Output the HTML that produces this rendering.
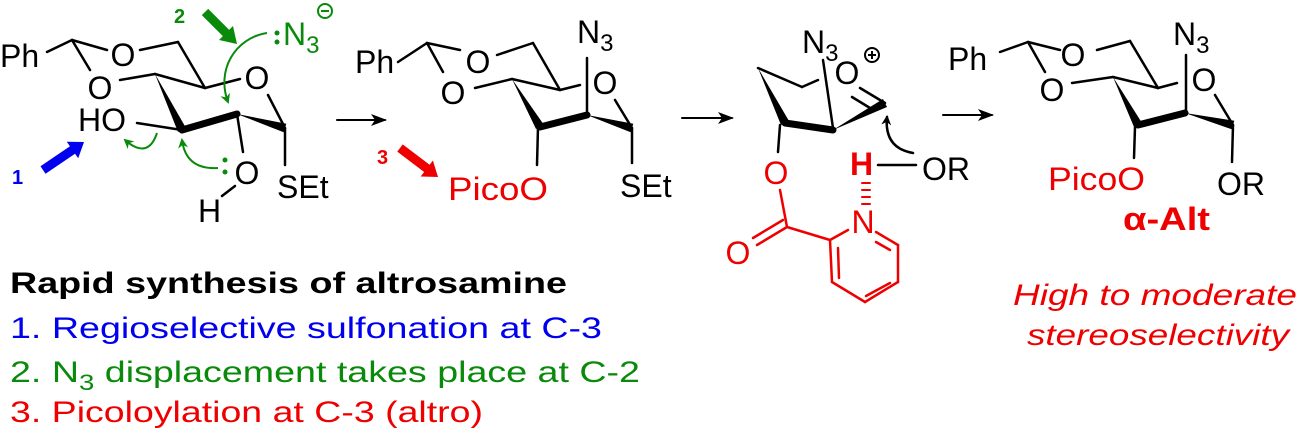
<!DOCTYPE html>
<html><head><meta charset="utf-8"><style>
html,body{margin:0;padding:0;background:#fff;}
svg{display:block;}
text{font-family:"Liberation Sans",Arial,sans-serif;}
</style></head><body>
<svg width="1300" height="435" viewBox="0 0 1300 435" xmlns="http://www.w3.org/2000/svg">
<defs>
<marker id="ak" markerWidth="10" markerHeight="10" refX="8" refY="5" orient="auto" markerUnits="userSpaceOnUse"><path d="M0,0 L10,5 L0,10 L3,5 z" fill="#000"/></marker>
<marker id="ag" markerWidth="10" markerHeight="10" refX="8" refY="5" orient="auto" markerUnits="userSpaceOnUse"><path d="M0,0 L10,5 L0,10 L3,5 z" fill="#0a8a0a"/></marker>
<marker id="ah" markerWidth="16" markerHeight="12" refX="14" refY="6" orient="auto" markerUnits="userSpaceOnUse"><path d="M0,0 L16,6 L0,12 L4,6 z" fill="#000"/></marker>
</defs>

<g stroke="#000" stroke-width="2.5" fill="none" stroke-linecap="round">
<!-- Molecule 1 -->
<line x1="47" y1="52" x2="72" y2="40"/><line x1="72" y1="40" x2="107" y2="50"/>
<line x1="140" y1="50" x2="178" y2="42"/><line x1="178" y1="42" x2="205" y2="88"/>
<line x1="205" y1="88" x2="240" y2="79"/><line x1="268" y1="95" x2="285" y2="128"/>
<line x1="285" y1="128" x2="285" y2="165"/><line x1="72" y1="40" x2="90" y2="70"/>
<line x1="120" y1="80" x2="155" y2="74"/><line x1="155" y1="74" x2="205" y2="88"/>
<line x1="137" y1="123" x2="182" y2="130"/><line x1="237" y1="114" x2="243" y2="152"/>
<line x1="235" y1="186" x2="222" y2="196"/>
<line x1="182" y1="130" x2="237" y2="114" stroke-width="7"/>
<!-- Molecule 2 -->
<line x1="398" y1="62" x2="427" y2="43"/><line x1="427" y1="43" x2="460" y2="50"/>
<line x1="497" y1="55" x2="533" y2="43"/><line x1="533" y1="43" x2="560" y2="90"/>
<line x1="560" y1="90" x2="580" y2="85"/><line x1="615" y1="100" x2="632" y2="128"/>
<line x1="632" y1="128" x2="632" y2="163"/><line x1="427" y1="43" x2="443" y2="72"/>
<line x1="475" y1="88" x2="512" y2="79"/><line x1="512" y1="79" x2="560" y2="90"/>
<line x1="587" y1="115" x2="587" y2="58"/><line x1="538" y1="127" x2="537" y2="165"/>
<line x1="540" y1="127" x2="587" y2="115" stroke-width="7"/>
<!-- Molecule 3 -->
<line x1="758" y1="68" x2="802" y2="87"/><line x1="802" y1="87" x2="818" y2="80"/>
<line x1="823" y1="60" x2="833" y2="128"/>
<line x1="885" y1="103" x2="860" y2="88"/><line x1="870" y1="108" x2="852" y2="97"/>
<line x1="780" y1="125" x2="778" y2="152"/>
<line x1="785" y1="123" x2="833" y2="130" stroke-width="7"/>
<line x1="878" y1="165" x2="916" y2="165"/>
<path d="M913,153 Q884,148 887,117" marker-end="url(#ak)"/>
<!-- Molecule 4 -->
<line x1="1000" y1="52" x2="1028" y2="42"/><line x1="1028" y1="42" x2="1060" y2="50"/>
<line x1="1097" y1="50" x2="1130" y2="41"/><line x1="1130" y1="41" x2="1158" y2="88"/>
<line x1="1158" y1="88" x2="1177" y2="83"/><line x1="1215" y1="95" x2="1233" y2="125"/>
<line x1="1233" y1="125" x2="1232" y2="162"/><line x1="1028" y1="42" x2="1045" y2="72"/>
<line x1="1072" y1="83" x2="1113" y2="77"/><line x1="1113" y1="77" x2="1158" y2="88"/>
<line x1="1186" y1="55" x2="1186" y2="113"/><line x1="1135" y1="127" x2="1134" y2="158"/>
<line x1="1138" y1="125" x2="1185" y2="113" stroke-width="7"/>
<!-- reaction arrows -->
<line x1="337" y1="120" x2="385" y2="120" marker-end="url(#ah)" stroke-width="2"/>
<line x1="682" y1="118" x2="732" y2="118" marker-end="url(#ah)" stroke-width="2"/>
<line x1="943" y1="115" x2="992" y2="115" marker-end="url(#ah)" stroke-width="2"/>
</g>
<g fill="#000">
<polygon points="155,74 178,132 186,128"/><polygon points="237,114 283.7,132.3 286.3,123.7"/>
<polygon points="512,79 536,129 544,125"/><polygon points="587,115 630.7,132.3 633.3,123.7"/>
<polygon points="758,68 781,125 789,121"/><polygon points="833,130 887,107 883,99"/>
<polygon points="1113,77 1134,127 1142,123"/><polygon points="1185,113 1231.7,129.3 1234.3,120.7"/>
</g>

<!-- red picolinoyl -->
<g stroke="#e00" stroke-width="2.5" fill="none" stroke-linecap="round">
<line x1="780" y1="190" x2="787" y2="227"/>
<line x1="787" y1="227" x2="757" y2="245"/><line x1="783" y1="220" x2="753" y2="238"/>
<line x1="787" y1="227" x2="830" y2="240"/>
<line x1="830" y1="240" x2="848" y2="230"/><line x1="876" y1="232" x2="898" y2="245"/>
<line x1="898" y1="245" x2="898" y2="282"/><line x1="898" y1="282" x2="865" y2="302"/>
<line x1="865" y1="302" x2="832" y2="282"/><line x1="832" y1="282" x2="830" y2="240"/>
<line x1="876" y1="242" x2="890" y2="250"/><line x1="890" y1="283" x2="866" y2="296"/>
<line x1="839" y1="278" x2="838" y2="248"/>
<line x1="862" y1="183" x2="870" y2="183" stroke-width="2"/><line x1="862" y1="190" x2="870" y2="190" stroke-width="2"/>
<line x1="862" y1="197" x2="870" y2="197" stroke-width="2"/><line x1="862" y1="204" x2="870" y2="204" stroke-width="2"/>
</g>

<!-- block arrows -->
<line x1="43" y1="170" x2="74" y2="149" stroke="#0000ee" stroke-width="9"/>
<polygon points="84,142 78.2,158.2 66.8,141.8" fill="#0000ee"/>
<line x1="205" y1="12" x2="228" y2="35" stroke="#0a8a0a" stroke-width="9"/>
<polygon points="237,44 219,40 233,26" fill="#0a8a0a"/>
<line x1="400" y1="148" x2="429" y2="170" stroke="#e00" stroke-width="9"/>
<polygon points="438,177 420.7,176.5 432.9,160.5" fill="#e00"/>

<!-- green curved arrows -->
<g stroke="#0a8a0a" stroke-width="2" fill="none">
<path d="M267,33 C235,38 216,70 228,102" marker-end="url(#ag)"/>
<path d="M157,133 Q148,160 125,140" marker-end="url(#ag)"/>
<path d="M218,168 Q186,170 182,140" marker-end="url(#ag)"/>
<circle cx="325" cy="11" r="7"/>
</g>
<line x1="321" y1="11" x2="329" y2="11" stroke="#0a8a0a" stroke-width="2"/>
<g fill="#0a8a0a"><circle cx="277" cy="33" r="2.5"/><circle cx="277" cy="42" r="2.5"/>
<circle cx="225" cy="160" r="2.5"/><circle cx="225" cy="172" r="2.5"/></g>
<!-- plus -->
<circle cx="872" cy="55" r="7" stroke="#000" stroke-width="2" fill="none"/>
<path d="M868,55 H876 M872,51 V59" stroke="#000" stroke-width="2"/>

<!-- labels -->
<g font-size="32" fill="#000">
<text x="0" y="67">Ph</text>
<text x="123" y="66" text-anchor="middle">O</text>
<text x="100" y="99" text-anchor="middle">O</text>
<text x="257" y="89" text-anchor="middle">O</text>
<text x="78" y="131">HO</text>
<text x="247" y="184" text-anchor="middle">O</text>
<text x="198" y="222">H</text>
<text x="277" y="198">SEt</text>

<text x="355" y="73">Ph</text>
<text x="478" y="73" text-anchor="middle">O</text>
<text x="453" y="104" text-anchor="middle">O</text>
<text x="605" y="94" text-anchor="middle">O</text>
<text x="577" y="43">N<tspan font-size="24" dy="8">3</tspan></text>
<text x="620" y="197">SEt</text>

<text x="802" y="53">N<tspan font-size="24" dy="8">3</tspan></text>
<text x="847" y="84" text-anchor="middle">O</text>
<text x="922" y="180">OR</text>

<text x="948" y="70">Ph</text>
<text x="1073" y="66" text-anchor="middle">O</text>
<text x="1052" y="101" text-anchor="middle">O</text>
<text x="1204" y="91" text-anchor="middle">O</text>
<text x="1173" y="45">N<tspan font-size="24" dy="8">3</tspan></text>
<text x="1217" y="195">OR</text>
</g>
<g font-size="32" fill="#e00">
<text x="448" y="200" textLength="100" lengthAdjust="spacingAndGlyphs">PicoO</text>
<text x="776" y="184" text-anchor="middle">O</text>
<text x="738" y="264" text-anchor="middle">O</text>
<text x="863" y="233" text-anchor="middle">N</text>
<text x="850" y="175" font-weight="bold">H</text>
<text x="1048" y="190" textLength="97" lengthAdjust="spacingAndGlyphs">PicoO</text>
<text x="1123" y="230" font-weight="bold" textLength="87" lengthAdjust="spacingAndGlyphs">α-Alt</text>
</g>
<g font-size="20" font-weight="bold">
<text x="12" y="184" fill="#0000ee">1</text>
<text x="174" y="23" fill="#0a8a0a">2</text>
<text x="377" y="164" fill="#e00">3</text>
</g>
<text x="283" y="45" font-size="32" fill="#0a8a0a">N<tspan font-size="24" dy="8">3</tspan></text>

<!-- bottom text -->
<text x="10" y="293" font-size="30" font-weight="bold" fill="#000" textLength="557" lengthAdjust="spacingAndGlyphs">Rapid synthesis of altrosamine</text>
<text x="10" y="338" font-size="30" fill="#0000ee" textLength="592" lengthAdjust="spacingAndGlyphs">1. Regioselective sulfonation at C-3</text>
<text x="10" y="382" font-size="30" fill="#0a8a0a" textLength="630" lengthAdjust="spacingAndGlyphs">2. N<tspan font-size="22" dy="8">3</tspan><tspan dy="-8"> displacement takes place at C-2</tspan></text>
<text x="10" y="422" font-size="30" fill="#e00" textLength="473" lengthAdjust="spacingAndGlyphs">3. Picoloylation at C-3 (altro)</text>
<text x="1013" y="305" font-size="30" font-style="italic" fill="#e00" textLength="284" lengthAdjust="spacingAndGlyphs">High to moderate</text>
<text x="1027" y="345" font-size="30" font-style="italic" fill="#e00" textLength="262" lengthAdjust="spacingAndGlyphs">stereoselectivity</text>
</svg>
</body></html>
